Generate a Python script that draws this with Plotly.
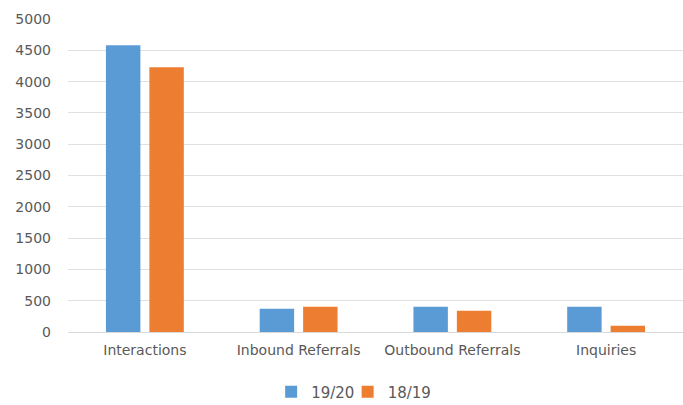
import plotly.graph_objects as go

categories = ["Interactions", "Inbound Referrals", "Outbound Referrals", "Inquiries"]
series_1920 = [4580, 370, 405, 405]
series_1819 = [4230, 405, 340, 100]
series_names = ["19/20", "18/19"]

blue = "#5B9BD5"
orange = "#ED7D31"
text_color = "#595959"
font_family = "DejaVu Sans"

fig = go.Figure()
fig.add_trace(go.Bar(x=categories, y=series_1920, name=series_names[0], legend="legend",
                     marker=dict(color=blue, line=dict(width=0))))
fig.add_trace(go.Bar(x=categories, y=series_1819, name=series_names[1], legend="legend2",
                     marker=dict(color=orange, line=dict(width=0))))

leg_common = dict(orientation="h", xref="container", yref="container", xanchor="left",
                  y=0.032, yanchor="middle", font=dict(size=15, color=text_color),
                  itemwidth=30, bgcolor="rgba(0,0,0,0)")

fig.update_layout(
    width=683, height=405,
    margin=dict(l=68, r=0, t=19, b=73),
    paper_bgcolor="white", plot_bgcolor="white",
    barmode="group", bargap=0.435, bargroupgap=0.207,
    font=dict(family=font_family, size=14, color=text_color),
    showlegend=True,
    legend=dict(x=0.397, **leg_common),
    legend2=dict(x=0.509, **leg_common),
    xaxis=dict(showgrid=False, showline=False, ticks="", ticklabelstandoff=8,
               tickfont=dict(size=14, color=text_color)),
    yaxis=dict(range=[0, 5000], dtick=500, showgrid=True, gridcolor="#E0E0E0", gridwidth=1,
               zeroline=True, zerolinecolor="#D9D9D9", zerolinewidth=1, showline=False, ticks="",
               ticklabelstandoff=16, tickfont=dict(size=14, color=text_color)),
)

fig.write_html("out.html")
